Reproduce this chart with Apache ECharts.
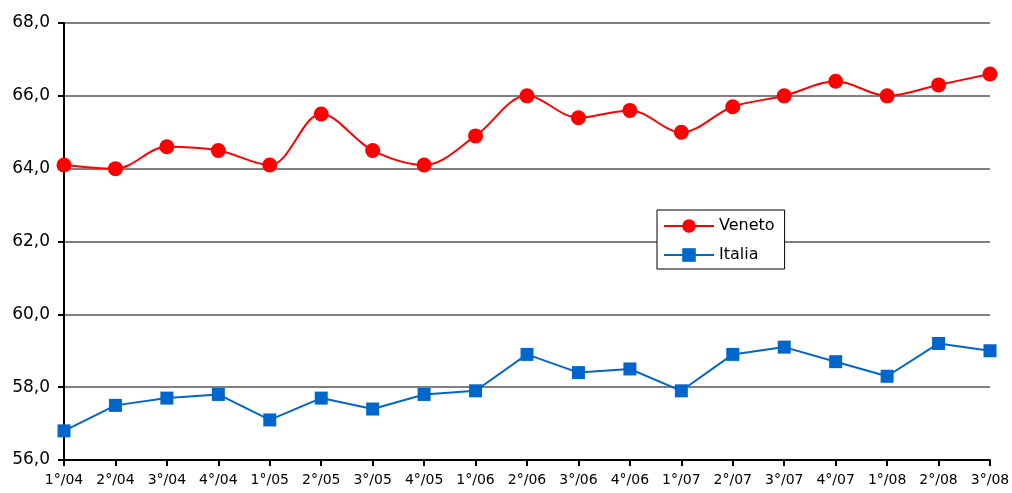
<!DOCTYPE html>
<html><head><meta charset="utf-8">
<script src="https://cdn.jsdelivr.net/npm/echarts@6/dist/echarts.min.js"></script>
<style>html,body{margin:0;padding:0;background:#fff}#c{width:1012px;height:493px}</style>
</head><body><div id="c"></div>
<script>
const categories = ['1°/04','2°/04','3°/04','4°/04','1°/05','2°/05','3°/05','4°/05','1°/06','2°/06','3°/06','4°/06','1°/07','2°/07','3°/07','4°/07','1°/08','2°/08','3°/08'];
const veneto = [64.1,64.0,64.6,64.5,64.1,65.5,64.5,64.1,64.9,66.0,65.4,65.6,65.0,65.7,66.0,66.4,66.0,66.3,66.6];
const italia = [56.8,57.5,57.7,57.8,57.1,57.7,57.4,57.8,57.9,58.9,58.4,58.5,57.9,58.9,59.1,58.7,58.3,59.2,59.0];
const FONT = 'DejaVu Sans';
const chart = echarts.init(document.getElementById('c'));
chart.setOption({
  animation:false,
  grid:{left:64,right:22,top:23,bottom:33,outerBoundsMode:'none',containLabel:false},
  legend:{
    left:657, top:210, orient:'vertical', itemWidth:50, itemHeight:17, itemGap:13,
    borderColor:'#000', borderWidth:1, padding:[8,10,6,6], backgroundColor:'#fff',
    textStyle:{fontFamily:FONT,fontSize:16,color:'#000'},
    data:['Veneto','Italia']
  },
  xAxis:{
    type:'category', data:categories, boundaryGap:false,
    axisLine:{lineStyle:{color:'#000',width:2}},
    axisTick:{show:true,inside:false,length:6,lineStyle:{color:'#000',width:2},interval:0},
    axisLabel:{fontFamily:FONT,fontSize:14,color:'#000',margin:13,interval:0},
    splitLine:{show:false}
  },
  yAxis:{
    type:'value', min:56, max:68, interval:2,
    axisLine:{show:true,lineStyle:{color:'#000',width:2}},
    axisTick:{show:true,length:6,lineStyle:{color:'#000',width:2}},
    axisLabel:{fontFamily:FONT,fontSize:17,color:'#000',margin:14,formatter:v=>v.toFixed(1).replace('.',',')},
    splitLine:{show:true,lineStyle:{color:'#808080',width:2}}
  },
  series:[
    {name:'Veneto',type:'line',data:veneto,smooth:0.35,symbol:'circle',symbolSize:15,
     itemStyle:{color:'#FF0000'},lineStyle:{color:'#FF0000',width:2}},
    {name:'Italia',type:'line',data:italia,symbol:'rect',symbolSize:13,
     itemStyle:{color:'#0066CC'},lineStyle:{color:'#0066CC',width:2}}
  ]
});
</script></body></html>
